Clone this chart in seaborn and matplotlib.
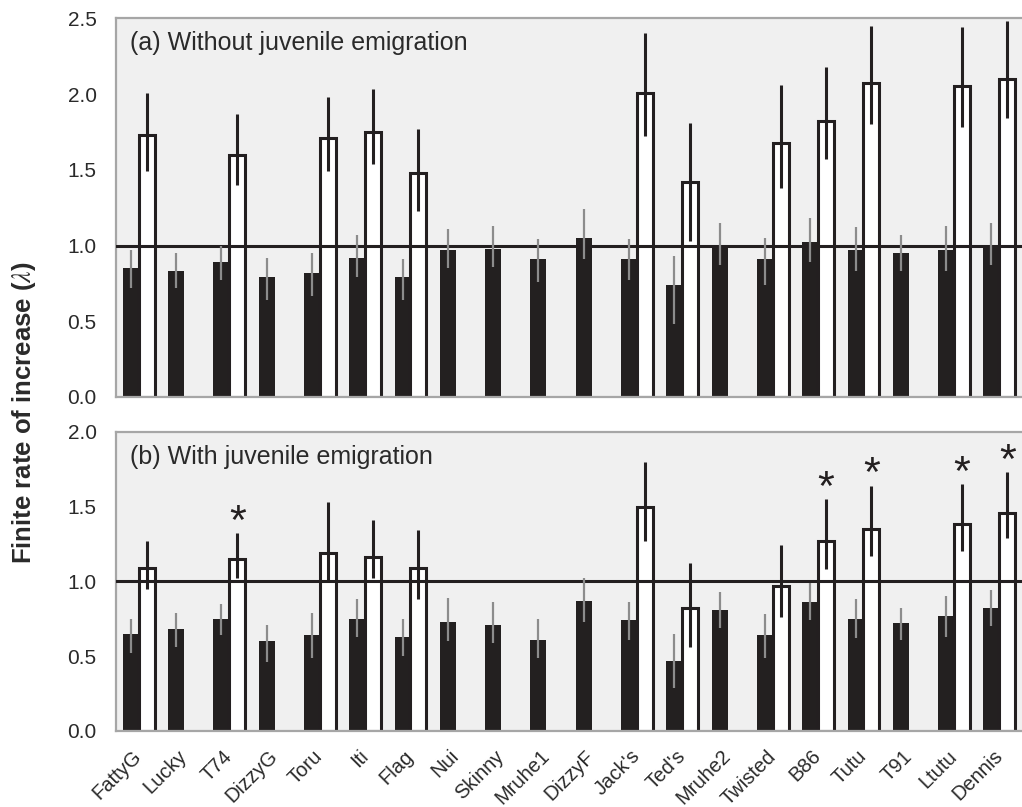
import numpy as np
import pandas as pd
import matplotlib
matplotlib.use("Agg")
import matplotlib.pyplot as plt
import seaborn as sns

# Territories / groups along the x axis
categories = ["FattyG", "Lucky", "T74", "DizzyG", "Toru", "Iti", "Flag", "Nui",
              "Skinny", "Mruhe1", "DizzyF", "Jack's", "Ted's", "Mruhe2", "Twisted",
              "B86", "Tutu", "T91", "Ltutu", "Dennis"]
nan = np.nan

# (a) without juvenile emigration: filled bars
a_filled = [0.85, 0.83, 0.89, 0.79, 0.82, 0.92, 0.79, 0.97, 0.98, 0.91,
            1.05, 0.91, 0.74, 1.00, 0.91, 1.02, 0.97, 0.95, 0.97, 1.00]
a_filled_lo = [0.72, 0.72, 0.77, 0.64, 0.67, 0.79, 0.64, 0.85, 0.86, 0.76,
               0.91, 0.77, 0.48, 0.87, 0.74, 0.89, 0.83, 0.83, 0.83, 0.87]
a_filled_hi = [0.97, 0.95, 1.00, 0.92, 0.95, 1.07, 0.91, 1.11, 1.13, 1.04,
               1.24, 1.04, 0.93, 1.15, 1.05, 1.18, 1.12, 1.07, 1.13, 1.15]
# (a) open bars
a_open = [1.73, nan, 1.60, nan, 1.71, 1.75, 1.48, nan, nan, nan,
          nan, 2.01, 1.42, nan, 1.68, 1.82, 2.07, nan, 2.05, 2.10]
a_open_lo = [1.49, nan, 1.40, nan, 1.49, 1.54, 1.23, nan, nan, nan,
             nan, 1.72, 1.03, nan, 1.38, 1.57, 1.80, nan, 1.78, 1.84]
a_open_hi = [2.01, nan, 1.87, nan, 1.98, 2.03, 1.77, nan, nan, nan,
             nan, 2.40, 1.81, nan, 2.06, 2.18, 2.45, nan, 2.44, 2.48]

# (b) with juvenile emigration: filled bars
b_filled = [0.65, 0.68, 0.75, 0.60, 0.64, 0.75, 0.63, 0.73, 0.71, 0.61,
            0.87, 0.74, 0.47, 0.81, 0.64, 0.86, 0.75, 0.72, 0.77, 0.82]
b_filled_lo = [0.52, 0.56, 0.64, 0.46, 0.49, 0.63, 0.50, 0.60, 0.59, 0.49,
               0.73, 0.61, 0.29, 0.69, 0.49, 0.74, 0.62, 0.61, 0.63, 0.70]
b_filled_hi = [0.75, 0.79, 0.85, 0.71, 0.79, 0.88, 0.75, 0.89, 0.86, 0.75,
               1.02, 0.86, 0.65, 0.93, 0.78, 0.99, 0.88, 0.82, 0.90, 0.94]
# (b) open bars
b_open = [1.09, nan, 1.15, nan, 1.19, 1.16, 1.09, nan, nan, nan,
          nan, 1.50, 0.82, nan, 0.97, 1.27, 1.35, nan, 1.38, 1.46]
b_open_lo = [0.95, nan, 1.02, nan, 1.00, 1.02, 0.88, nan, nan, nan,
             nan, 1.27, 0.56, nan, 0.76, 1.08, 1.17, nan, 1.20, 1.29]
b_open_hi = [1.27, nan, 1.32, nan, 1.53, 1.41, 1.34, nan, nan, nan,
             nan, 1.80, 1.12, nan, 1.24, 1.55, 1.64, nan, 1.65, 1.73]
# open bars significantly above 1
b_significant = ["T74", "B86", "Tutu", "Ltutu", "Dennis"]

panel_titles = ["(a) Without juvenile emigration", "(b) With juvenile emigration"]
ylabel = r"Finite rate of increase ($\lambda$)"

DARK = "#231f20"
GREY_AXIS = "#a6a6a6"
GREY_ERR = "#8c8c8c"
TEXT = "#2a2a2a"

sns.set_style("white")
plt.rcParams["font.family"] = ["Liberation Sans", "DejaVu Sans"]
plt.rcParams["mathtext.fontset"] = "stix"


def long_frame(filled, open_):
    return pd.DataFrame({
        "category": categories * 2,
        "value": list(filled) + list(open_),
        "kind": ["filled"] * len(categories) + ["open"] * len(categories),
    })


def draw_panel(ax, filled, flo, fhi, open_, olo, ohi, ymax, title, title_y,
               stars=None, show_labels=False):
    df = long_frame(filled, open_)
    sns.barplot(data=df, x="category", y="value", hue="kind",
                order=categories, hue_order=["filled", "open"],
                palette={"filled": DARK, "open": "white"},
                width=0.70, errorbar=None, legend=False, ax=ax, zorder=2)
    lookup = {0: (filled, flo, fhi), 1: (open_, olo, ohi)}
    for k, cont in enumerate(ax.containers[:2]):
        vals, lo, hi = lookup[k]
        for p in cont.patches:
            if k == 0:
                p.set_edgecolor("none")
                p.set_linewidth(0)
            else:
                p.set_facecolor("white")
                p.set_edgecolor(DARK)
                p.set_linewidth(2.2)
            h = p.get_height()
            if not np.isfinite(h) or h == 0:
                continue
            xc = p.get_x() + p.get_width() / 2
            i = int(round(xc))
            ax.errorbar([xc], [vals[i]],
                        yerr=[[vals[i] - lo[i]], [hi[i] - vals[i]]],
                        fmt="none", ecolor=GREY_ERR if k == 0 else DARK,
                        elinewidth=1.6 if k == 0 else 2.2, capsize=0,
                        zorder=4)
            if k == 1 and stars is not None and categories[i] in stars:
                ax.text(xc, hi[i] + 0.07, "*", ha="center", va="center",
                        fontsize=31, color=DARK, zorder=5)

    ax.axhline(1.0, color=DARK, lw=2.2, zorder=3)
    ax.set_facecolor("#f0f0f0")
    ax.set_xlim(-0.5, 19.35)
    ax.set_ylim(0, ymax)
    ticks = np.arange(0, ymax + 0.01, 0.5)
    ax.set_yticks(ticks)
    ax.set_yticklabels([f"{v:.1f}" for v in ticks])
    ax.set_xticks(np.arange(len(categories)))
    ax.set_xticks(np.arange(len(categories) + 1) - 0.5, minor=True)
    ax.tick_params(axis="x", which="major", length=0, pad=16)
    ax.tick_params(axis="x", which="minor", length=5, width=1.3,
                   color=GREY_AXIS, direction="out")
    ax.tick_params(axis="y", length=4.5, width=1.3, color=GREY_AXIS,
                   direction="out", labelsize=15, labelcolor=TEXT, pad=9.5)
    if show_labels:
        ax.set_xticklabels(categories, rotation=45, ha="right", va="center",
                           rotation_mode="anchor", fontsize=14.5,
                           color=TEXT)
    else:
        ax.set_xticklabels([])
    ax.set_xlabel("")
    ax.set_ylabel("")
    for side in ["left", "bottom", "top"]:
        ax.spines[side].set_visible(True)
        ax.spines[side].set_color(GREY_AXIS)
        ax.spines[side].set_linewidth(1.6)
    ax.spines["right"].set_visible(False)
    ax.text(0.016, title_y, title, transform=ax.transAxes, ha="left",
            va="center", fontsize=18, color=TEXT)


fig = plt.figure(figsize=(10.22, 8.07), dpi=100)
ax_a = fig.add_axes([116 / 1022, 410 / 807, 906 / 1022, 378.7 / 807])
ax_b = fig.add_axes([116 / 1022, 76 / 807, 906 / 1022, 299.3 / 807])

draw_panel(ax_a, a_filled, a_filled_lo, a_filled_hi, a_open, a_open_lo,
           a_open_hi, 2.5, panel_titles[0], 0.935)
draw_panel(ax_b, b_filled, b_filled_lo, b_filled_hi, b_open, b_open_lo,
           b_open_hi, 2.0, panel_titles[1], 0.914, stars=b_significant,
           show_labels=True)

fig.text(24 / 1022, 1 - 413 / 807, ylabel, rotation=90, ha="center",
         va="center", fontsize=18.5, fontweight="bold", color=TEXT)

fig.savefig("out.png", dpi=100)
